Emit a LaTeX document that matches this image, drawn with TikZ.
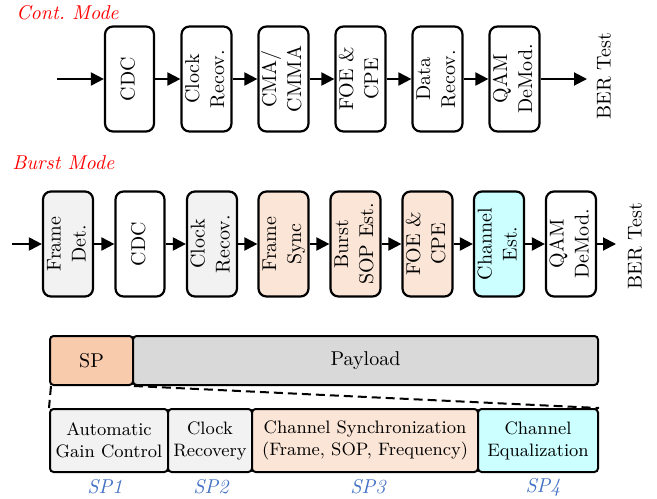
\documentclass[tikz,border=0pt]{standalone}
\usetikzlibrary{arrows.meta}
\definecolor{grayF}{HTML}{F2F2F2}
\definecolor{peach}{HTML}{FBE5D6}
\definecolor{cyanL}{HTML}{CCFFFF}
\definecolor{spor}{HTML}{F8CBAD}
\definecolor{payg}{HTML}{D9D9D9}
\definecolor{spblue}{HTML}{4472C4}
\tikzset{
  blk/.style={draw, line width=1.1pt, rounded corners=4pt, minimum width=24.5pt,
    minimum height=52.5pt, inner sep=0pt, font=\fontsize{10}{12.5}\selectfont, align=center},
  fbox/.style={draw, line width=1pt, rounded corners=1.8pt, inner sep=0pt,
    font=\fontsize{9}{11}\selectfont, align=center},
  arr/.style={line width=1pt, -{Triangle[length=6.5pt,width=6.5pt]}},
  modelbl/.style={text=red, font=\fontsize{10}{12}\selectfont\itshape, anchor=base west, inner sep=0pt},
  splbl/.style={text=spblue, font=\fontsize{10}{12}\selectfont\itshape, inner sep=0pt},
  bertxt/.style={font=\fontsize{10}{12}\selectfont, inner sep=0pt},
  dsh/.style={line width=1pt, dash pattern=on 4.5pt off 2.5pt}
}
\newcommand{\rt}[1]{\rotatebox{90}{\begin{tabular}{@{}c@{}}#1\end{tabular}}}
\begin{document}
\begin{tikzpicture}[x=0.5pt, y=-0.5pt]
\useasboundingbox (0,0) rectangle (657,498);

% ---- Continuous mode ----
\node[modelbl] (contlbl) at (16,19) {Cont.\ Mode};
\coordinate (cin) at (57,79);
\node[blk] (c1) at (129.5,79) {\rt{CDC}};
\node[blk] (c2) at (206.5,79) {\rt{Clock\\Recov.}};
\node[blk] (c3) at (283.5,79) {\rt{CMA/\\CMMA}};
\node[blk] (c4) at (360.5,79) {\rt{FOE \&\\CPE}};
\node[blk] (c5) at (437.5,79) {\rt{Data\\Recov.}};
\node[blk] (c6) at (514.5,79) {\rt{QAM\\DeMod.}};
\coordinate (cout) at (587,79);
\node[bertxt, rotate=90] (cber) at (604,76) {BER Test};
\draw[arr] (cin) -- (c1);
\draw[arr] (c1) -- (c2);
\draw[arr] (c2) -- (c3);
\draw[arr] (c3) -- (c4);
\draw[arr] (c4) -- (c5);
\draw[arr] (c5) -- (c6);
\draw[arr] (c6) -- (cout);

% ---- Burst mode ----
\node[modelbl] (burstlbl) at (12,169) {Burst Mode};
\coordinate (bin) at (12,244);
\node[blk, fill=grayF] (b1) at (68,244) {\rt{Frame\\Det.}};
\node[blk] (b2) at (140,244) {\rt{CDC}};
\node[blk, fill=grayF] (b3) at (212,244) {\rt{Clock\\Recov.}};
\node[blk, fill=peach] (b4) at (283.5,244) {\rt{Frame\\Sync}};
\node[blk, fill=peach] (b5) at (355.5,244) {\rt{Burst\\SOP Est.}};
\node[blk, fill=peach] (b6) at (427.5,244) {\rt{FOE \&\\CPE}};
\node[blk, fill=cyanL] (b7) at (499,244) {\rt{Channel\\Est.}};
\node[blk] (b8) at (571,244) {\rt{QAM\\DeMod.}};
\coordinate (bout) at (616,244);
\node[bertxt, rotate=90] (bber) at (635,246) {BER Test};
\draw[arr] (bin) -- (b1);
\draw[arr] (b1) -- (b2);
\draw[arr] (b2) -- (b3);
\draw[arr] (b3) -- (b4);
\draw[arr] (b4) -- (b5);
\draw[arr] (b5) -- (b6);
\draw[arr] (b6) -- (b7);
\draw[arr] (b7) -- (b8);
\draw[arr] (b8) -- (bout);

% ---- Frame structure ----
\node[fbox, fill=spor, minimum width=41.5pt, minimum height=24.5pt, font=\fontsize{10}{12}\selectfont] (sp) at (91.5,360.5) {SP};
\node[fbox, fill=payg, minimum width=232.5pt, minimum height=24.5pt, font=\fontsize{10}{12}\selectfont] (pay) at (365.5,360.5) {Payload};

\node[fbox, fill=grayF, minimum width=59pt, minimum height=31.5pt] (agc) at (109,440.5) {Automatic\\Gain Control};
\node[fbox, fill=grayF, minimum width=42pt, minimum height=31.5pt] (clk) at (210,440.5) {Clock\\Recovery};
\node[fbox, fill=peach, minimum width=113pt, minimum height=31.5pt] (sync) at (365,440.5) {Channel Synchronization\\(Frame, SOP, Frequency)};
\node[fbox, fill=cyanL, minimum width=60pt, minimum height=31.5pt] (eq) at (538,440.5) {Channel\\Equalization};

\draw[dsh] ([xshift=1pt]sp.south west) -- (agc.north west);
\draw[dsh] (sp.south east) -- (eq.north east);

\node[splbl] (sp1) at (105,487) {SP1};
\node[splbl] (sp2) at (211,487) {SP2};
\node[splbl] (sp3) at (368,487) {SP3};
\node[splbl] (sp4) at (543,487) {SP4};
\end{tikzpicture}
\end{document}
